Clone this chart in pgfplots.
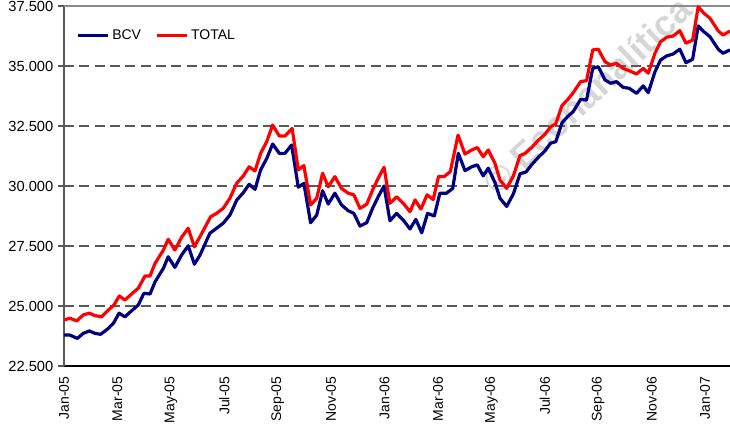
\documentclass[border=0pt]{standalone}
\usepackage{fontspec}
\setmainfont{Liberation Sans}
\usepackage{pgfplots}
\pgfplotsset{compat=1.18}
\usepackage{pgfplotstable}
\definecolor{bcv}{RGB}{0,0,128}
\definecolor{tot}{RGB}{255,0,0}

\pgfplotstableread{
m v
0.00 23790
0.22 23790
0.50 23650
0.72 23860
0.95 23960
1.16 23860
1.37 23820
1.62 24030
1.85 24280
2.06 24700
2.28 24550
2.53 24800
2.78 25040
2.99 25530
3.22 25500
3.41 26010
3.72 26570
3.90 27050
4.15 26610
4.40 27120
4.65 27510
4.88 26740
5.09 27120
5.46 28030
5.71 28240
5.96 28450
6.21 28790
6.47 29420
6.71 29720
6.93 30070
7.15 29860
7.36 30670
7.59 31150
7.81 31750
8.06 31360
8.27 31360
8.52 31710
8.77 29950
8.98 30110
9.23 28470
9.46 28790
9.68 29800
9.89 29250
10.14 29700
10.39 29210
10.64 28970
10.85 28860
11.08 28330
11.33 28470
11.55 29070
11.76 29550
11.98 30000
12.20 28550
12.45 28860
12.70 28580
12.95 28210
13.17 28610
13.39 28050
13.61 28860
13.86 28750
14.07 29700
14.32 29700
14.55 29900
14.76 31360
15.01 30640
15.26 30800
15.47 30880
15.69 30420
15.88 30740
16.13 30150
16.32 29490
16.57 29150
16.82 29670
17.07 30510
17.29 30580
17.50 30880
17.75 31190
18.00 31460
18.21 31780
18.41 31850
18.64 32630
18.84 32880
19.06 33100
19.34 33610
19.56 33580
19.79 34900
20.00 34970
20.25 34420
20.46 34280
20.68 34350
20.93 34110
21.16 34070
21.43 33860
21.68 34170
21.87 33890
22.12 34760
22.33 35250
22.56 35420
22.80 35500
23.05 35700
23.28 35140
23.53 35280
23.74 36670
23.95 36430
24.18 36220
24.49 35700
24.67 35530
24.93 35670
}\bcvdata

\pgfplotstableread{
m v
0.00 24420
0.22 24490
0.48 24380
0.72 24630
0.95 24700
1.16 24600
1.41 24550
1.66 24830
1.87 25040
2.07 25420
2.28 25250
2.53 25500
2.78 25740
3.03 26250
3.22 26250
3.41 26780
3.72 27330
3.90 27780
4.15 27330
4.40 27860
4.65 28240
4.88 27470
5.09 27890
5.49 28720
5.71 28860
5.96 29070
6.21 29490
6.46 30110
6.71 30420
6.93 30800
7.15 30630
7.36 31360
7.59 31850
7.81 32540
8.06 32080
8.27 32080
8.54 32400
8.77 30670
8.98 30850
9.23 29210
9.46 29490
9.68 30530
9.89 29970
10.14 30390
10.39 29900
10.64 29700
10.85 29630
11.08 29070
11.33 29240
11.55 29830
11.76 30320
11.98 30780
12.20 29280
12.45 29550
12.70 29280
12.95 28930
13.14 29420
13.36 29040
13.59 29630
13.82 29440
14.02 30400
14.24 30400
14.46 30600
14.75 32120
15.01 31330
15.26 31500
15.47 31600
15.69 31220
15.88 31500
16.13 30950
16.32 30250
16.57 29900
16.82 30420
17.07 31270
17.25 31350
17.50 31600
17.75 31900
18.00 32150
18.21 32460
18.41 32600
18.64 33350
18.84 33580
19.06 33890
19.34 34350
19.56 34390
19.79 35670
20.00 35700
20.25 35180
20.46 35040
20.68 35110
20.93 34900
21.16 34800
21.43 34670
21.68 34900
21.87 34700
22.12 35530
22.33 36010
22.56 36200
22.80 36250
23.05 36470
23.28 35950
23.53 36080
23.74 37470
23.95 37200
24.18 36990
24.49 36460
24.67 36290
24.93 36460
}\totdata

\begin{document}
\begin{tikzpicture}
\node[rotate=43, text=black!16, font=\fontsize{27}{27}\selectfont\bfseries, inner sep=0pt] at (392pt,203pt) {© Econanalítica};
\begin{axis}[
  at={(0,0)}, anchor=south west,
  scale only axis, width=499.5pt, height=270pt,
  xmin=0, xmax=24.93, ymin=22500, ymax=37500,
  axis x line*=bottom, axis y line*=left,
  x axis line style={-, black, line width=1.1pt},
  y axis line style={-, black!65, line width=1.5pt},
  xtick={0,2,...,24},
  xticklabels={Jan-05,Mar-05,May-05,Jul-05,Sep-05,Nov-05,Jan-06,Mar-06,May-06,Jul-06,Sep-06,Nov-06,Jan-07},
  x tick label style={rotate=90, anchor=east, font=\fontsize{10.5}{12}\selectfont},
  xtick style={draw=none},
  ytick={22500,25000,...,35000},
  extra y ticks={37500},
  extra y tick style={grid style={solid, black!45, line width=1pt}},
  ymajorgrids,
  grid style={dash pattern=on 7.5pt off 4pt, black!65, line width=0.9pt},
  y tick label style={font=\fontsize{11}{13}\selectfont},
  ytick style={black!65, line width=1pt},
  tick align=outside, major tick length=4.5pt,
  scaled y ticks=false,
  /pgf/number format/1000 sep={.},
  /pgf/number format/assume math mode=true,
  legend style={draw=none, fill=none, at={(0.012,0.95)}, anchor=north west,
    font=\fontsize{10.5}{12}\selectfont,
    /tikz/every even column/.append style={column sep=8.5pt}},
  legend columns=2,
  legend image code/.code={\draw[#1, line width=2.25pt] (0cm,0cm) -- (0.8cm,0cm);},
]
\addplot[bcv, line width=2.4pt, line join=round] table[x=m, y=v] {\bcvdata};
\addlegendentry{BCV}
\addplot[tot, line width=2.4pt, line join=round] table[x=m, y=v] {\totdata};
\addlegendentry{TOTAL}
\end{axis}
\pgfresetboundingbox
\path[use as bounding box] (-48pt,-49.5pt) rectangle (499.5pt,274.5pt);
\end{tikzpicture}
\end{document}
